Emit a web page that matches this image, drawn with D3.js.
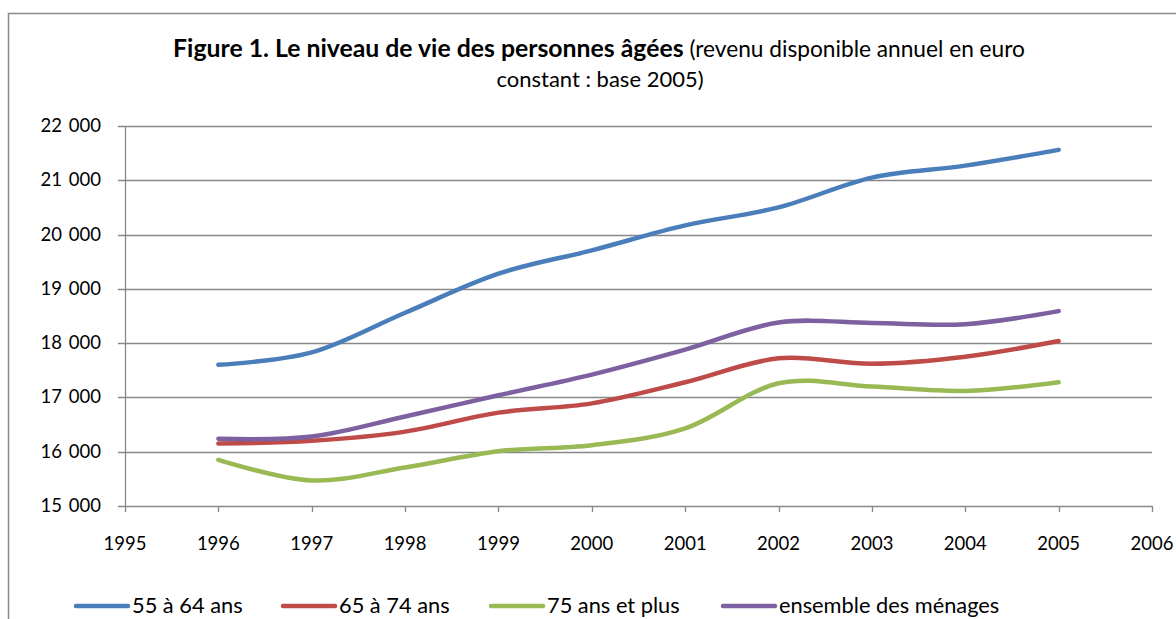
<!DOCTYPE html>
<html>
<head>
<meta charset="utf-8">
<script src="https://cdn.jsdelivr.net/npm/d3@7"></script>
<style>
  body { margin: 0; background: #fff; }
  svg { display: block; font-family: Lato, "Open Sans", sans-serif; }
</style>
</head>
<body>
<svg id="chart" width="1176" height="619"></svg>
<script>
const years = [1996, 1997, 1998, 1999, 2000, 2001, 2002, 2003, 2004, 2005];
const xTicks = [1995, 1996, 1997, 1998, 1999, 2000, 2001, 2002, 2003, 2004, 2005, 2006];
const yTicks = [15000, 16000, 17000, 18000, 19000, 20000, 21000, 22000];

const seriesNames = ["55 à 64 ans", "65 à 74 ans", "75 ans et plus", "ensemble des ménages"];
const age55_64 = [17600, 17830, 18560, 19280, 19710, 20170, 20500, 21050, 21270, 21560];
const age65_74 = [16150, 16200, 16370, 16720, 16890, 17280, 17720, 17620, 17750, 18040];
const age75plus = [15850, 15470, 15710, 16010, 16120, 16430, 17260, 17200, 17120, 17280];
const ensemble = [16240, 16280, 16650, 17040, 17420, 17880, 18380, 18370, 18350, 18590];
const colors = ["#4a7ebb", "#be4b48", "#98b954", "#7d60a0"];

const seriesData = [age55_64, age65_74, age75plus, ensemble];

const svg = d3.select("#chart");

// outer frame
svg.append("rect")
  .attr("x", 8.5).attr("y", 13.5)
  .attr("width", 1300).attr("height", 700)
  .attr("fill", "none").attr("stroke", "#898989").attr("stroke-width", 1.5);

const plotLeft = 125, plotRight = 1152, plotTop = 126, plotBottom = 506;

const x = d3.scaleLinear().domain([1995, 2006]).range([plotLeft, plotRight]);
const y = d3.scaleLinear().domain([15000, 22000]).range([plotBottom, plotTop]);

const fmt = v => d3.format(",")(v).replace(",", " ");

// gridlines
svg.append("g")
  .selectAll("line")
  .data(yTicks)
  .join("line")
  .attr("x1", plotLeft - 7).attr("x2", plotRight)
  .attr("y1", d => Math.round(y(d)) + 0.5).attr("y2", d => Math.round(y(d)) + 0.5)
  .attr("stroke", "#888").attr("stroke-width", 1.3);

// y axis line
svg.append("line")
  .attr("x1", plotLeft + 0.5).attr("x2", plotLeft + 0.5)
  .attr("y1", plotTop).attr("y2", plotBottom)
  .attr("stroke", "#888").attr("stroke-width", 1.3);

// x tick marks
svg.append("g")
  .selectAll("line")
  .data(xTicks)
  .join("line")
  .attr("x1", d => Math.round(x(d)) + 0.5).attr("x2", d => Math.round(x(d)) + 0.5)
  .attr("y1", plotBottom).attr("y2", plotBottom + 6)
  .attr("stroke", "#888").attr("stroke-width", 1.3);

// y labels
svg.append("g")
  .selectAll("text")
  .data(yTicks)
  .join("text")
  .attr("x", 101)
  .attr("y", d => y(d) + 6)
  .attr("text-anchor", "end")
  .attr("font-size", 18.5)
  .attr("word-spacing", 2)
  .attr("fill", "#000")
  .text(fmt);

// x labels
svg.append("g")
  .selectAll("text")
  .data(xTicks)
  .join("text")
  .attr("x", d => x(d))
  .attr("y", 550)
  .attr("text-anchor", "middle")
  .attr("font-size", 18.5)
  .attr("fill", "#000")
  .text(d => d);

// lines
const line = d3.line()
  .x((d, i) => x(years[i]))
  .y(d => y(d))
  .curve(d3.curveCatmullRom.alpha(0));

svg.append("g")
  .selectAll("path")
  .data(seriesData)
  .join("path")
  .attr("d", line)
  .attr("fill", "none")
  .attr("stroke", (d, i) => colors[i])
  .attr("stroke-width", 4.5)
  .attr("stroke-linecap", "round")
  .attr("stroke-linejoin", "round");

// title
const title = svg.append("text")
  .attr("x", 599).attr("y", 57)
  .attr("text-anchor", "middle")
  .attr("font-size", 24.8);
title.append("tspan").attr("font-weight", "bold").text("Figure 1. Le niveau de vie des personnes âgées");
title.append("tspan").attr("font-size", 22.7).text(" (revenu disponible annuel en euro");

svg.append("text")
  .attr("x", 600).attr("y", 87)
  .attr("text-anchor", "middle")
  .attr("font-size", 22)
  .text("constant : base 2005)");

// legend
const legendX = [75, 282, 490, 722];
const legend = svg.append("g")
  .selectAll("g")
  .data(seriesNames)
  .join("g")
  .attr("transform", (d, i) => `translate(${legendX[i]},606)`);

legend.append("line")
  .attr("x1", 1).attr("x2", 53)
  .attr("y1", 0).attr("y2", 0)
  .attr("stroke", (d, i) => colors[i])
  .attr("stroke-width", 4.5)
  .attr("stroke-linecap", "round");

legend.append("text")
  .attr("x", 57)
  .attr("y", 7)
  .attr("font-size", 21.8)
  .text(d => d);
</script>
</body>
</html>
